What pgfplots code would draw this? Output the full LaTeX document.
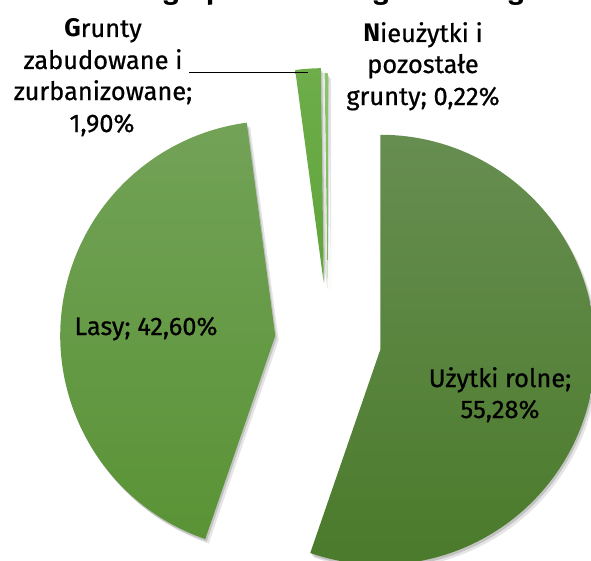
\documentclass[border=0pt]{standalone}
\usepackage{pgfplots}
\pgfplotsset{compat=1.18}
\usepackage{pgfplotstable}
\usepackage{fontspec}
\setmainfont{Fira Sans}[UprightFeatures={FakeBold=0.7}]

% slice colours (top / bottom of the gradient)
\definecolor{slice0top}{HTML}{678E51}
\definecolor{slice0bot}{HTML}{4A7A2A}
\definecolor{slice1top}{HTML}{72A257}
\definecolor{slice1bot}{HTML}{5A9336}
\definecolor{slice2top}{HTML}{6EAD4A}
\definecolor{slice2bot}{HTML}{5FA43A}
\definecolor{slice3top}{HTML}{8CC46C}
\definecolor{slice3bot}{HTML}{7AB858}

% share in %, explode distance in px
\pgfplotstableread[col sep=comma]{
share,explode
55.28,53
42.60,53
1.90,58
0.22,53
}\landuse

\newcommand\lab[3]{\node[anchor=base,inner sep=0pt,font=\fontsize{25.5}{30}\selectfont] at (axis cs:#1,#2) {#3};}

\begin{document}
\begin{tikzpicture}
\begin{axis}[
  scale only axis,width=591bp,height=561bp,
  xmin=0,xmax=591,ymin=0,ymax=561,y dir=reverse,
  hide axis,clip=false
]
\xdef\cum{0}
\pgfplotsinvokeforeach{0,...,3}{
  \pgfplotstablegetelem{#1}{share}\of\landuse \let\share\pgfplotsretval
  \pgfplotstablegetelem{#1}{explode}\of\landuse \let\expl\pgfplotsretval
  \pgfmathsetmacro\aone{90-3.6*\cum}
  \pgfmathsetmacro\atwo{90-3.6*(\cum+\share)}
  \pgfmathsetmacro\amid{(\aone+\atwo)/2}
  \edef\slice{%
    \noexpand\fill[black,opacity=0.10,shift={(\amid:\expl bp)},xshift=3.5bp,yshift=-4.5bp]
      (axis cs:328,341) -- ++(\aone:215bp) arc[start angle=\aone,end angle=\atwo,radius=215bp] -- cycle;
    \noexpand\fill[black,opacity=0.15,shift={(\amid:\expl bp)},xshift=1.5bp,yshift=-2.5bp]
      (axis cs:328,341) -- ++(\aone:215bp) arc[start angle=\aone,end angle=\atwo,radius=215bp] -- cycle;
    \noexpand\shade[top color=slice#1top,bottom color=slice#1bot,shift={(\amid:\expl bp)}]
      (axis cs:328,341) -- ++(\aone:215bp) arc[start angle=\aone,end angle=\atwo,radius=215bp] -- cycle;}
  \slice
  \pgfmathsetmacro\newcum{\cum+\share}
  \xdef\cum{\newcum}
}

% title, mostly cut off at the top
\node[anchor=base east,inner sep=0pt,font=\fontsize{27}{30}\selectfont\bfseries]
  at (axis cs:592,0) {Rysunek 5 Struktura zagospodarowania gruntów w gminie};

% data labels
\lab{103}{37}{\textbf{G}runty}
\lab{103}{69}{zabudowane i}
\lab{103}{100}{zurbanizowane;}
\lab{102}{132}{1,90\%}
\draw[black,thin] (axis cs:189,72) -- (axis cs:308,72);

\lab{423}{42}{\textbf{N}ieużytki i}
\lab{423}{73}{pozostałe}
\lab{423}{105}{grunty; 0,22\%}

\lab{146}{335}{Lasy; 42,60\%}
\lab{500}{387}{Użytki rolne;}
\lab{500}{418}{55,28\%}
\end{axis}
\pgfresetboundingbox
\path[use as bounding box] (current axis.south west) rectangle (current axis.north east);
\end{tikzpicture}
\end{document}
